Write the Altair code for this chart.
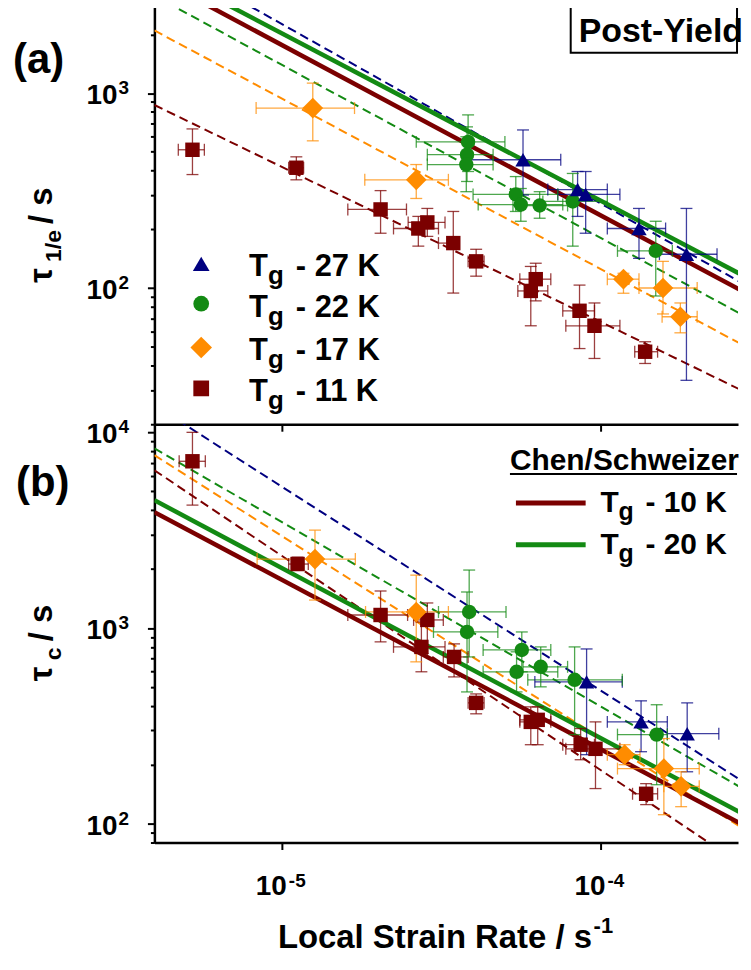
import altair as alt
import pandas as pd

FONT = "Liberation Sans, Arial, DejaVu Sans, sans-serif"

# ---------------- axes ----------------
X_DOMAIN = [3.98e-6, 2.70e-4]
X_TICKS = [1e-5, 1e-4]
X_TICK_BASE = ["10", "10"]
X_TICK_EXP = ["-5", "-4"]
YA_DOMAIN = [20, 2800]
YA_TICKS = [20, 30, 40, 50, 60, 70, 80, 90, 100, 200, 300, 400, 500, 600, 700, 800, 900, 1000, 2000]
YA_LABELS = [100, 1000]
YA_LABEL_EXP = ["2", "3"]
YB_DOMAIN = [80, 11000]
YB_TICKS = [80, 90, 100, 200, 300, 400, 500, 600, 700, 800, 900, 1000,
            2000, 3000, 4000, 5000, 6000, 7000, 8000, 9000, 10000]
YB_LABELS = [100, 1000, 10000]
YB_LABEL_EXP = ["2", "3", "4"]

# ---------------- series ----------------
SERIES = ["Tg - 27 K", "Tg - 22 K", "Tg - 17 K", "Tg - 11 K"]
SERIES_TAIL = ["- 27 K", "- 22 K", "- 17 K", "- 11 K"]
SHAPES = ["triangle-up", "circle", "diamond", "square"]
SIZES = [240, 210, 430, 210]
CS_SERIES = ["CS Tg - 10 K", "CS Tg - 20 K"]
CS_TAIL = ["- 10 K", "- 20 K"]
COLOR_DOMAIN = SERIES + CS_SERIES
COLOR_RANGE = ["#000080", "#138a13", "#ff8c00", "#7b0000", "#7b0000", "#138a13"]

# ---------------- panel (a): tau_1/e ----------------
A_TRI_X = [5.71e-5, 8.47e-5, 8.98e-5, 1.32e-4, 1.86e-4]
A_TRI_Y = [455, 320, 302, 202, 149]
A_TRI_XLO = [3.84e-5, 6.83e-5, 7.34e-5, 1.05e-4, 1.53e-4]
A_TRI_XHI = [7.50e-5, 1.05e-4, 1.15e-4, 1.60e-4, 2.32e-4]
A_TRI_YLO = [300, 233, 191, 142, 33.6]
A_TRI_YHI = [647, 396, 396, 256, 256]

A_CIR_X = [3.84e-5, 3.81e-5, 3.79e-5, 5.42e-5, 5.62e-5, 6.44e-5, 8.18e-5, 1.49e-4]
A_CIR_Y = [562, 483, 430, 302, 268, 265, 278, 155]
A_CIR_XLO = [2.64e-5, 2.86e-5, 2.86e-5, 3.98e-5, 4.13e-5, 5.31e-5, 6.59e-5, 1.13e-4]
A_CIR_XHI = [5.01e-5, 4.60e-5, 4.60e-5, 7.34e-5, 7.61e-5, 7.88e-5, 1.05e-4, 1.68e-4]
A_CIR_YLO = [396, 352, 312, 247, 220, 228, 164, 91]
A_CIR_YHI = [773, 671, 597, 373, 324, 312, 387, 220]

A_DIA_X = [1.25e-5, 2.64e-5, 1.18e-4, 1.57e-4, 1.78e-4]
A_DIA_Y = [838, 359, 111, 100, 71.2]
A_DIA_XLO = [8.30e-6, 1.82e-5, 1.05e-4, 1.32e-4, 1.56e-4]
A_DIA_XHI = [1.69e-5, 3.33e-5, 1.32e-4, 2.01e-4, 2.01e-4]
A_DIA_YLO = [569, 288, 94, 73.6, 58.9]
A_DIA_YHI = [1125, 430, 119, 137, 83.8]

A_SQ_X = [5.24e-6, 1.11e-5, 2.04e-5, 2.68e-5, 2.86e-5, 3.45e-5, 4.07e-5, 6.26e-5, 6.04e-5, 8.59e-5, 9.57e-5, 1.38e-4]
A_SQ_Y = [512, 414, 253, 202, 217, 170, 137, 111, 96.6, 76.4, 64, 47.1]
A_SQ_XLO = [4.73e-6, 1.05e-5, 1.61e-5, 2.24e-5, 2.49e-5, 3.10e-5, 3.84e-5, 5.58e-5, 5.50e-5, 7.61e-5, 7.78e-5, 1.28e-4]
A_SQ_XHI = [5.71e-6, 1.17e-5, 2.46e-5, 3.10e-5, 3.25e-5, 3.52e-5, 4.31e-5, 6.98e-5, 6.83e-5, 9.57e-5, 1.15e-4, 1.51e-4]
A_SQ_YLO = [382, 359, 191, 164, 184, 94.2, 115, 85.9, 64, 48.9, 43.5, 41]
A_SQ_YHI = [655, 471, 316, 233, 256, 247, 158, 134, 129, 103.5, 83.8, 53]

# ---------------- panel (b): tau_c ----------------
B_TRI_X = [9.04e-5, 1.34e-4, 1.87e-4]
B_TRI_Y = [530, 331, 288]
B_TRI_XLO = [6.22e-5, 1.05e-4, 1.62e-4]
B_TRI_XHI = [1.17e-4, 1.62e-4, 2.35e-4]
B_TRI_YLO = [225, 233, 184]
B_TRI_YHI = [781, 424, 414]

B_CIR_X = [3.87e-5, 3.81e-5, 5.66e-5, 5.45e-5, 6.49e-5, 8.29e-5, 1.50e-4]
B_CIR_Y = [1207, 954, 772, 597, 633, 543, 285]
B_CIR_XLO = [3.10e-5, 2.99e-5, 4.28e-5, 4.28e-5, 5.71e-5, 5.91e-5, 1.13e-4]
B_CIR_XHI = [5.05e-5, 4.76e-5, 6.98e-5, 7.34e-5, 7.88e-5, 1.17e-4, 1.62e-4]
B_CIR_YLO = [711, 471, 597, 471, 500, 285, 158]
B_CIR_YHI = [1977, 1527, 954, 755, 800, 800, 405]

B_DIA_X = [1.27e-5, 2.64e-5, 1.19e-4, 1.58e-4, 1.79e-4]
B_DIA_Y = [2250, 1207, 225, 191, 155]
B_DIA_XLO = [8.36e-6, 1.83e-5, 1.05e-4, 1.13e-4, 1.58e-4]
B_DIA_XHI = [1.70e-5, 3.33e-5, 1.33e-4, 2.04e-4, 2.04e-4]
B_DIA_YLO = [1389, 671, 200, 111, 122]
B_DIA_YHI = [3163, 1862, 253, 272, 184]

B_SQ_X = [5.24e-6, 1.12e-5, 2.04e-5, 2.86e-5, 2.74e-5, 3.47e-5, 4.07e-5, 6.04e-5, 6.35e-5, 8.66e-5, 9.64e-5, 1.39e-4]
B_SQ_Y = [7112, 2122, 1165, 1099, 800, 711, 414, 331, 339, 253, 241, 142]
B_SQ_XLO = [4.76e-6, 1.05e-5, 1.61e-5, 2.59e-5, 2.24e-5, 3.21e-5, 3.84e-5, 5.58e-5, 5.58e-5, 7.61e-5, 7.78e-5, 1.26e-4]
B_SQ_XHI = [5.75e-6, 1.21e-5, 2.48e-5, 3.21e-5, 3.25e-5, 3.84e-5, 4.31e-5, 6.98e-5, 6.98e-5, 9.57e-5, 1.15e-4, 1.51e-4]
B_SQ_YLO = [4246, 1977, 849, 800, 597, 562, 364, 253, 253, 212, 151, 125]
B_SQ_YHI = [10000, 2302, 1545, 1342, 1073, 829, 460, 395, 395, 306, 331, 160]

# ---------------- power-law fit lines (end points) ----------------
FIT_X = [3.98e-6, 2.9e-4]
A_FIT_Y = [[5275, 102], [3160, 70.3], [2096, 49.4], [869, 28.8]]      # dashed, per SERIES
A_CS_Y = [[3945, 93.1], [4467, 112.5]]                                 # solid, per CS_SERIES
B_FIT_Y = [[13770, 158], [8280, 145.6], [7640, 91], [6400, 58.6]]
B_CS_Y = [[3908, 95.5], [4498, 108.6]]


def points_frame(groups):
    frames = []
    for s, (x, y, xlo, xhi, ylo, yhi) in zip(SERIES, groups):
        frames.append(pd.DataFrame(dict(x=x, y=y, xlo=xlo, xhi=xhi, ylo=ylo, yhi=yhi, series=s)))
    return pd.concat(frames, ignore_index=True)


def line_frame(names, ys):
    rows = []
    for s, yy in zip(names, ys):
        for xv, yv in zip(FIT_X, yy):
            rows.append(dict(series=s, x=xv, y=yv))
    return pd.DataFrame(rows)


A_PTS = points_frame([
    (A_TRI_X, A_TRI_Y, A_TRI_XLO, A_TRI_XHI, A_TRI_YLO, A_TRI_YHI),
    (A_CIR_X, A_CIR_Y, A_CIR_XLO, A_CIR_XHI, A_CIR_YLO, A_CIR_YHI),
    (A_DIA_X, A_DIA_Y, A_DIA_XLO, A_DIA_XHI, A_DIA_YLO, A_DIA_YHI),
    (A_SQ_X, A_SQ_Y, A_SQ_XLO, A_SQ_XHI, A_SQ_YLO, A_SQ_YHI),
])
B_PTS = points_frame([
    (B_TRI_X, B_TRI_Y, B_TRI_XLO, B_TRI_XHI, B_TRI_YLO, B_TRI_YHI),
    (B_CIR_X, B_CIR_Y, B_CIR_XLO, B_CIR_XHI, B_CIR_YLO, B_CIR_YHI),
    (B_DIA_X, B_DIA_Y, B_DIA_XLO, B_DIA_XHI, B_DIA_YLO, B_DIA_YHI),
    (B_SQ_X, B_SQ_Y, B_SQ_XLO, B_SQ_XHI, B_SQ_YLO, B_SQ_YHI),
])
A_FITS = line_frame(SERIES, A_FIT_Y)
A_CS = line_frame(CS_SERIES, A_CS_Y)
B_FITS = line_frame(SERIES, B_FIT_Y)
B_CS = line_frame(CS_SERIES, B_CS_Y)

W, H = 586, 420
ONE = pd.DataFrame({"k": [0]})

COLOR = alt.Color("series:N", scale=alt.Scale(domain=COLOR_DOMAIN, range=COLOR_RANGE), legend=None)
MAJOR_TEST = "datum.value == 100 || datum.value == 1000 || datum.value == 10000"


def txt(s, x, y, size, dx=0, dy=0, angle=0, align="left", color="black"):
    return alt.Chart(ONE).mark_text(
        text=s, align=align, baseline="alphabetic", font=FONT, fontSize=size,
        fontWeight="bold", dx=dx, dy=dy, angle=angle, color=color,
    ).encode(x=alt.value(x), y=alt.value(y))


def hrule(x1, x2, y, color, width):
    return alt.Chart(ONE).mark_rule(color=color, strokeWidth=width).encode(
        x=alt.value(x1), x2=alt.value(x2), y=alt.value(y))


def panel(pts, fits, cs, ydom, yticks, ylabels, yexp, bottom_labels):
    xs = alt.Scale(type="log", domain=X_DOMAIN)
    ys = alt.Scale(type="log", domain=ydom)
    xaxis = alt.Axis(values=X_TICKS, labels=False, tickSize=7, title=None)
    yaxis = alt.Axis(values=yticks, labels=False, title=None,
                     tickSize={"condition": {"test": MAJOR_TEST, "value": 7}, "value": 4})

    def X(f):
        return alt.X(f"{f}:Q", scale=xs, axis=xaxis)

    def Y(f):
        return alt.Y(f"{f}:Q", scale=ys, axis=yaxis)

    layers = []
    layers.append(alt.Chart(fits).mark_line(clip=True, strokeDash=[9, 5], strokeWidth=2).encode(
        x=X("x"), y=Y("y"), color=COLOR, detail="series:N"))
    layers.append(alt.Chart(cs).mark_line(clip=True, strokeWidth=4.5).encode(
        x=X("x"), y=Y("y"), color=COLOR, detail="series:N"))

    base = alt.Chart(pts)
    eb = dict(strokeWidth=1.3, opacity=0.75)
    layers.append(base.mark_rule(**eb).encode(x=X("xlo"), x2="xhi:Q", y=Y("y"), color=COLOR))
    layers.append(base.mark_rule(**eb).encode(x=X("x"), y=Y("ylo"), y2="yhi:Q", color=COLOR))
    for f in ["xlo", "xhi"]:
        layers.append(base.mark_rule(yOffset=-6, y2Offset=6, **eb).encode(
            x=X(f), y=Y("y"), y2="y:Q", color=COLOR))
    for f in ["ylo", "yhi"]:
        layers.append(base.mark_rule(xOffset=-6, x2Offset=6, **eb).encode(
            x=X("x"), x2="x:Q", y=Y(f), color=COLOR))

    for i in [3, 2, 1, 0]:
        s = SERIES[i]
        layers.append(base.transform_filter(alt.datum.series == s).mark_point(
            shape=SHAPES[i], size=SIZES[i], filled=True, opacity=1, strokeWidth=0,
            color=COLOR_RANGE[i]).encode(x=X("x"), y=Y("y")))

    # y tick labels: 10 with superscript exponent
    ylab = pd.DataFrame({"v": ylabels, "base": ["10"] * len(ylabels), "exp": yexp})
    tstyle = dict(font=FONT, fontWeight="bold", color="black", baseline="alphabetic")
    layers.append(alt.Chart(ylab).mark_text(align="right", fontSize=28, dy=11, **tstyle).encode(
        x=alt.value(-37), y=Y("v"), text="base:N"))
    layers.append(alt.Chart(ylab).mark_text(align="left", fontSize=19, dy=1, **tstyle).encode(
        x=alt.value(-36), y=Y("v"), text="exp:N"))

    if bottom_labels:
        xlab = pd.DataFrame({"v": X_TICKS, "base": X_TICK_BASE, "exp": X_TICK_EXP})
        layers.append(alt.Chart(xlab).mark_text(align="right", fontSize=28, dx=5, **tstyle).encode(
            x=X("v"), y=alt.value(H + 53), text="base:N"))
        layers.append(alt.Chart(xlab).mark_text(align="left", fontSize=19, dx=7, **tstyle).encode(
            x=X("v"), y=alt.value(H + 45), text="exp:N"))
    return layers


# ---------------- panel (a) ----------------
a_layers = panel(A_PTS, A_FITS, A_CS, YA_DOMAIN, YA_TICKS, YA_LABELS, YA_LABEL_EXP, False)
a_layers.append(hrule(0, W, 0, "black", 2.5))
a_layers.append(alt.Chart(ONE).mark_rect(fill="white", stroke="black", strokeWidth=2).encode(
    x=alt.value(418), x2=alt.value(W - 1), y=alt.value(1), y2=alt.value(47)))
a_layers.append(txt("Post-Yield", 426, 36, 34))
a_layers.append(txt("(a)", -142, 67, 42))
# y title  tau_{1/e} / s
a_layers += [txt("\u03c4", -103, 278, 33, angle=270),
             txt("1/e", -103, 278, 23, dx=21, dy=9, angle=270),
             txt("/ s", -103, 278, 33, dx=59, angle=270)]
LEG_MARK_Y = [259, 299, 343, 384]
LEG_BASE_Y = [271, 312, 356, 397]
for i in range(4):
    a_layers.append(alt.Chart(ONE).mark_point(
        shape=SHAPES[i], size=SIZES[i] + 40, filled=True, opacity=1, strokeWidth=0,
        color=COLOR_RANGE[i]).encode(x=alt.value(47), y=alt.value(LEG_MARK_Y[i])))
    a_layers += [txt("T", 95, LEG_BASE_Y[i], 31),
                 txt("g", 95, LEG_BASE_Y[i], 26, dx=19, dy=8),
                 txt(SERIES_TAIL[i], 95, LEG_BASE_Y[i], 31, dx=47)]
top = alt.layer(*a_layers).properties(width=W, height=H)

# ---------------- panel (b) ----------------
b_layers = panel(B_PTS, B_FITS, B_CS, YB_DOMAIN, YB_TICKS, YB_LABELS, YB_LABEL_EXP, True)
b_layers.append(txt("(b)", -139, 72, 42))
b_layers += [txt("\u03c4", -103, 258, 33, angle=270),
             txt("c", -103, 258, 23, dx=21, dy=9, angle=270),
             txt("/ s", -103, 258, 33, dx=40, angle=270)]
b_layers.append(txt("Chen/Schweizer", 357, 46, 30))
b_layers.append(hrule(357, 585, 50, "black", 2))
CS_LINE_Y = [79, 121]
CS_BASE_Y = [88, 130]
CS_COL = [COLOR_RANGE[4], COLOR_RANGE[5]]
for i in range(2):
    b_layers.append(hrule(363, 433, CS_LINE_Y[i], CS_COL[i], 5))
    b_layers += [txt("T", 448, CS_BASE_Y[i], 30),
                 txt("g", 448, CS_BASE_Y[i], 25, dx=18, dy=8),
                 txt(CS_TAIL[i], 448, CS_BASE_Y[i], 30, dx=45)]
# x title with superscript
b_layers += [txt("Local Strain Rate / s", 124, H + 106, 33),
             txt("-1", 124, H + 106, 22, dx=317, dy=-15)]
bottom = alt.layer(*b_layers).properties(width=W, height=H)

chart = alt.vconcat(top, bottom, spacing=0, bounds="flush").properties(
    padding={"left": 5, "top": -6, "right": 0, "bottom": 0}
).configure_view(stroke=None).configure_axis(
    domainColor="black", domainWidth=2.5, tickColor="black", tickWidth=2, grid=False,
)

chart.save("out.html", embed_options={"renderer": "svg", "actions": False})
